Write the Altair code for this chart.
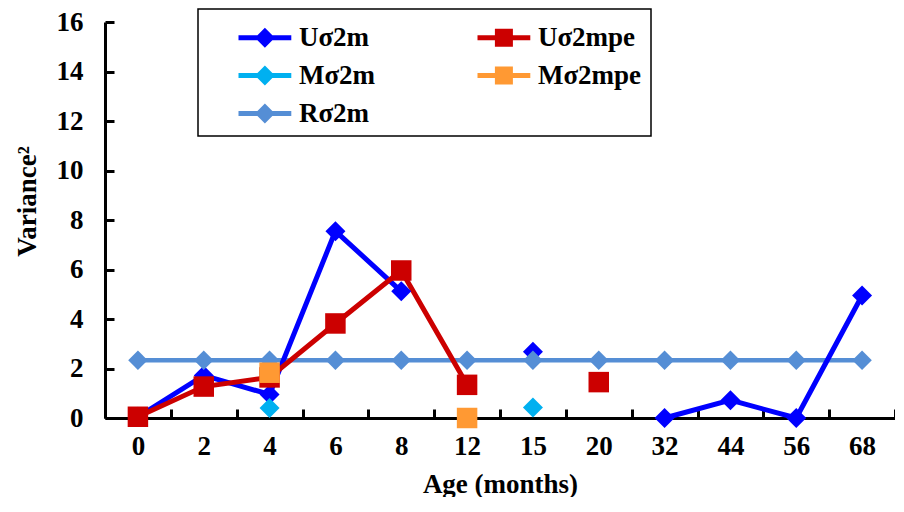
import altair as alt
import pandas as pd

ages = ["0", "2", "4", "6", "8", "12", "15", "20", "32", "44", "56", "68"]
series_names = ["Uσ2m", "Uσ2mpe", "Mσ2m", "Mσ2mpe", "Rσ2m"]
u_s2m = [0.05, 1.72, 0.95, 7.55, 5.12, None, 2.68, None, 0.0, 0.72, 0.0, 4.95]
u_s2mpe = [0.05, 1.27, 1.64, 3.82, 5.96, 1.34, None, 1.45, None, None, None, None]
m_s2m = [None, None, 0.40, None, None, None, 0.42, None, None, None, None, None]
m_s2mpe = [None, None, 1.83, None, None, 0.0, None, None, None, None, None, None]
r_s2m = [2.33, 2.33, 2.33, 2.33, 2.33, 2.33, 2.33, 2.33, 2.33, 2.33, 2.33, 2.33]
y_ticks = [0, 2, 4, 6, 8, 10, 12, 14, 16]

colors = ["#0000FF", "#CC0000", "#00B0F0", "#FF9933", "#558ED5"]
marker_shapes = ["diamond", "square", "diamond", "square", "diamond"]
marker_sizes = [400, 420, 400, 420, 380]
line_widths = [5, 5, 5, 5, 4.5]

# legend symbols: line + marker (drawn beyond the nominal unit square)
diamond_sym = "M-2.2,-0.21L2.2,-0.21L2.2,0.21L-2.2,0.21Z M0,-0.83L0.83,0L0,0.83L-0.83,0Z"
square_sym = "M-2.2,-0.21L2.2,-0.21L2.2,0.21L-2.2,0.21Z M-0.75,-0.75L0.75,-0.75L0.75,0.75L-0.75,0.75Z"
legend_syms = [diamond_sym, square_sym, diamond_sym, square_sym, diamond_sym]

# legend order (column-major fill gives the row-major look of the reference)
legend_order = [0, 2, 4, 1, 3]

all_values = [u_s2m, u_s2mpe, m_s2m, m_s2mpe, r_s2m]
rows = []
for name, vals in zip(series_names, all_values):
    seg = 0
    gap = True
    for age, v in zip(ages, vals):
        if v is None:
            gap = True
            continue
        if gap:
            seg += 1
            gap = False
        rows.append({"age": age, "value": v, "series": name, "seg": f"{name}-{seg}"})
df = pd.DataFrame(rows)

FONT = "Liberation Serif"
FS = 27
H = 396
W = 790

x_enc = alt.X(
    "age:O",
    sort=ages,
    scale=alt.Scale(type="band", domain=ages, paddingInner=0, paddingOuter=0),
    axis=alt.Axis(title="Age (months)", labelPadding=15, titlePadding=12,
                  labelAngle=0, tickBand="extent", gridDash=[0, H - 9, 9, 3000]),
)
y_enc = alt.Y(
    "value:Q",
    scale=alt.Scale(domain=[0, 16], nice=False, zero=True),
    axis=alt.Axis(title="Variance²", values=y_ticks, labelPadding=22,
                  titleAngle=270, titleX=-78, titleY=179,
                  titleAlign="center", titleBaseline="middle", gridDash=[9, 3000]),
)

base = alt.Chart(df)
layers = []
# lines: R first, then U, Upe
for i in [4, 0, 1]:
    layers.append(
        base.transform_filter(alt.datum.series == series_names[i])
        .mark_line(color=colors[i], strokeWidth=line_widths[i])
        .encode(x=x_enc, y=y_enc, detail="seg:N")
    )
# markers
for i in [0, 1, 2, 4, 3]:
    layers.append(
        base.transform_filter(alt.datum.series == series_names[i])
        .mark_point(filled=True, shape=marker_shapes[i], size=marker_sizes[i],
                    color=colors[i], opacity=1, strokeWidth=0)
        .encode(x=x_enc, y=y_enc)
    )

leg = alt.Legend(title=" ", titleFontSize=4, titlePadding=2,
                 orient="none", legendX=93, legendY=-13, columns=2,
                 columnPadding=70, rowPadding=10, symbolSize=576,
                 symbolStrokeWidth=0, labelOffset=20.5, padding=9,
                 strokeColor="#000000", fillColor="#FFFFFF", symbolOffset=44.4)
leg_domain = [series_names[i] for i in legend_order]
legend_layer = (
    base.transform_filter("false")
    .mark_point(filled=True, opacity=1)
    .encode(
        x=x_enc, y=y_enc,
        color=alt.Color("series:N", scale=alt.Scale(domain=leg_domain, range=[colors[i] for i in legend_order]), legend=leg),
        shape=alt.Shape("series:N", scale=alt.Scale(domain=leg_domain, range=[legend_syms[i] for i in legend_order]), legend=leg),
    )
)
layers.append(legend_layer)

chart = (
    alt.layer(*layers)
    .properties(width=W, height=H,
                padding={"left": 5, "top": 0, "right": 0, "bottom": 0})
    .configure_view(stroke=None)
    .configure_axis(
        labelFont=FONT, labelFontSize=FS, labelFontWeight="bold", labelColor="#000000",
        titleFont=FONT, titleFontSize=FS, titleFontWeight="bold", titleColor="#000000",
        domainColor="#000000", domainWidth=3, ticks=False,
        grid=True, gridColor="#000000", gridWidth=3,
    )
    .configure_legend(
        labelFont=FONT, labelFontSize=FS, labelFontWeight="bold", labelColor="#000000",
        strokeWidth=1.5, labelLimit=0,
    )
)

chart.save("out.html", embed_options={"renderer": "svg", "actions": False})
